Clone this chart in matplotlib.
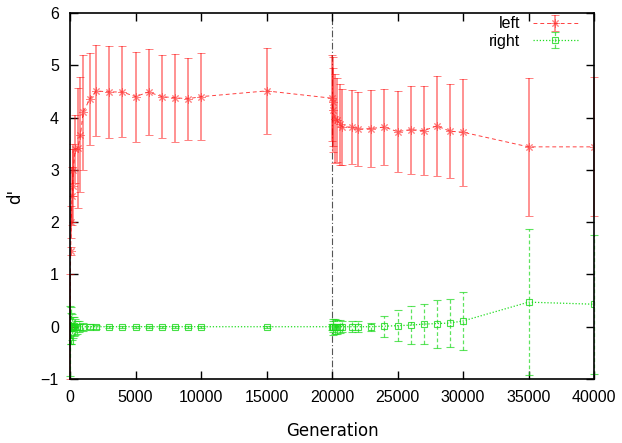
import numpy as np
import matplotlib
matplotlib.use("Agg")
import matplotlib.pyplot as plt

# d' over generations, left side (red) and right side (green)
gen_left = [0, 50, 100, 150, 200, 250, 400, 600, 800, 1000, 1500, 2000, 3000, 4000,
            5000, 6000, 7000, 8000, 9000, 10000, 15000, 20000, 20050, 20100, 20200,
            20400, 20600, 20800, 21500, 22000, 23000, 24000, 25000, 26000, 27000,
            28000, 29000, 30000, 35000, 40000]
d_left = [0.0, 1.45, 2.0, 2.5, 2.7, 3.0, 3.4, 3.42, 3.67, 4.1, 4.35, 4.51, 4.49, 4.49,
          4.40, 4.49, 4.40, 4.38, 4.36, 4.40, 4.51, 4.37, 4.30, 4.14, 3.98,
          3.95, 3.87, 3.82, 3.82, 3.78, 3.79, 3.82, 3.73, 3.77, 3.75,
          3.84, 3.74, 3.72, 3.44, 3.44]
err_left = [1.0, 0.08, 0.3, 0.55, 0.7, 0.5, 0.65, 1.15, 1.1, 1.1, 0.88, 0.87, 0.88, 0.87,
            0.86, 0.82, 0.79, 0.84, 0.78, 0.83, 0.83, 0.82, 0.85, 0.8, 0.85,
            0.8, 0.78, 0.72, 0.71, 0.71, 0.73, 0.73, 0.78, 0.84, 0.85,
            0.95, 0.9, 1.02, 1.32, 1.33]

gen_right = [0, 50, 100, 150, 200, 300, 400, 500, 700, 1000, 1500, 2000, 3000, 4000,
             5000, 6000, 7000, 8000, 9000, 10000, 15000, 20000, 20050, 20100, 20200,
             20400, 20600, 20800, 21500, 22000, 23000, 24000, 25000, 26000, 27000,
             28000, 29000, 30000, 35000, 40000]
d_right = [-0.28, 0.02, -0.03, 0.0, -0.02, 0.01, 0.0, -0.01, 0.0, 0.0, 0.0, 0.0, 0.0, 0.0,
           0.0, 0.0, 0.0, 0.0, 0.0, 0.0, 0.0, 0.0, 0.0, 0.0, 0.0,
           0.0, 0.0, 0.0, 0.0, 0.0, 0.0, 0.01, 0.02, 0.03, 0.05,
           0.06, 0.07, 0.11, 0.47, 0.43]
err_right = [0.67, 0.35, 0.3, 0.25, 0.2, 0.18, 0.15, 0.12, 0.1, 0.08, 0.05, 0.04, 0.02, 0.02,
             0.02, 0.02, 0.02, 0.02, 0.02, 0.02, 0.02, 0.06, 0.1, 0.15, 0.14,
             0.13, 0.12, 0.11, 0.1, 0.1, 0.08, 0.2, 0.3, 0.37, 0.39,
             0.46, 0.46, 0.56, 1.4, 1.33]

switch_gen = 20000

fig, ax = plt.subplots(figsize=(6.22, 4.43), dpi=100)
fig.subplots_adjust(left=70/622, right=594/622, top=1-13/443, bottom=1-379/443)

ax.axvline(switch_gen, color="#555555", lw=0.8, ls=(0, (6, 2, 1, 2)), zorder=1)

el = ax.errorbar(gen_left, d_left, yerr=err_left, color=(1, 0, 0, 0.75), ls=(0, (4, 3)), lw=0.7,
                 marker=(8, 2, 0), ms=6, mew=0.7, mec=(1, 0.2, 0.2, 0.6),
                 ecolor=(1, 0, 0, 0.5), elinewidth=1.2,
                 capsize=3, capthick=1.2, label="left")
er = ax.errorbar(gen_right, d_right, yerr=err_right, color="#22dd22", ls=(0, (1, 1.5)), lw=0.9,
                 marker="s", ms=4, mfc="none", mew=0.8, mec=(0.1, 0.85, 0.1, 0.8),
                 ecolor=(0.1, 0.85, 0.1, 0.7),
                 elinewidth=0.9, capsize=3, capthick=0.9, label="right")
for c in (el, er):
    for a in c.lines[1]:
        a.set_clip_on(False)
    for a in c.lines[2]:
        a.set_clip_on(False)
for c in er.lines[2]:
    c.set_linestyle((0, (3, 2)))

ax.set_xlim(0, 40000)
ax.set_ylim(-1, 6)
ax.set_xticks(np.arange(0, 40001, 5000))
ax.set_yticks(np.arange(-1, 7, 1))
ax.tick_params(direction="in", top=True, right=True, length=6, width=1, pad=8)
for lab in ax.get_xticklabels() + ax.get_yticklabels():
    lab.set_family("Liberation Sans")
    lab.set_fontsize(11.5)
for s in ax.spines.values():
    s.set_linewidth(1.2)

ax.set_xlabel("Generation", fontsize=12, labelpad=12)
ax.set_ylabel("d'", fontsize=12, labelpad=12)

leg = ax.legend(loc="upper right", bbox_to_anchor=(0.975, 1.0), frameon=False,
                markerfirst=False, handlelength=2.8, handletextpad=0.8,
                prop={"family": "Liberation Sans", "size": 11.5},
                borderaxespad=0.0, borderpad=0.2, labelspacing=0.15)

fig.savefig("out.png", dpi=100)
